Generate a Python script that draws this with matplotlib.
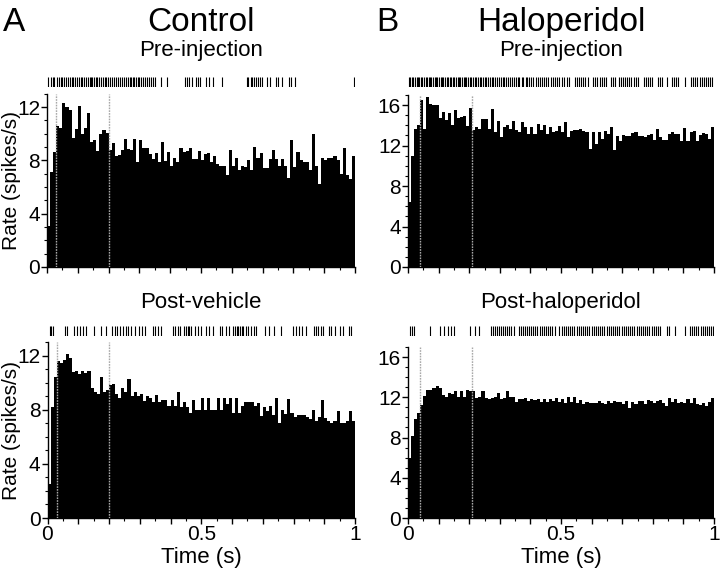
import matplotlib
matplotlib.use('Agg')
import matplotlib.pyplot as plt
import numpy as np
from matplotlib.ticker import MultipleLocator

plt.rcParams['font.family'] = ['Liberation Sans', 'DejaVu Sans']

# ---------------- data ----------------
bin_width = 0.01
bin_starts = np.arange(100) * bin_width

control_pre = [3.1, 7.1, 8.6, 10.6, 10.4, 12.3, 12.0, 11.8, 9.7, 10.35,
               12.1, 10.0, 10.45, 11.55, 9.35, 9.55, 8.7, 10.0, 10.3, 10.05,
               8.8, 9.3, 8.3, 8.4, 8.8, 9.6, 8.85, 8.75, 9.6, 7.9,
               9.5, 8.9, 8.9, 8.5, 8.1, 8.55, 7.9, 9.4, 7.95, 8.6,
               7.6, 8.2, 7.85, 8.9, 8.6, 8.7, 8.9, 8.1, 8.1, 8.7,
               8.0, 8.5, 8.55, 7.9, 8.35, 7.7, 7.55, 7.55, 6.9, 8.8,
               7.55, 8.2, 7.3, 7.6, 7.5, 8.05, 7.25, 9.0, 8.2, 8.55,
               7.45, 7.45, 8.1, 8.8, 8.1, 7.6, 8.1, 7.6, 6.7, 9.5,
               7.5, 8.6, 8.0, 7.9, 7.9, 7.25, 9.95, 7.6, 6.25, 8.2,
               8.0, 8.2, 8.2, 8.35, 8.0, 6.95, 8.9, 6.9, 6.6, 8.35]

control_post = [2.5, 8.2, 10.4, 11.6, 11.45, 11.7, 12.1, 11.8, 10.8, 10.85,
                10.65, 10.9, 10.7, 10.9, 9.6, 9.3, 9.15, 10.4, 9.35, 9.5,
                9.8, 9.9, 9.2, 8.85, 9.6, 9.3, 10.3, 9.0, 9.3, 9.0,
                9.2, 8.65, 9.0, 8.9, 8.6, 9.1, 8.6, 8.75, 8.7, 8.25,
                8.75, 8.3, 9.3, 8.2, 8.6, 8.2, 7.8, 8.7, 7.95, 8.0,
                8.85, 8.0, 8.9, 8.0, 8.0, 8.85, 8.0, 8.85, 8.45, 8.85,
                7.75, 8.85, 7.75, 8.25, 8.6, 8.55, 8.55, 8.3, 8.5, 7.55,
                8.2, 7.9, 8.25, 7.65, 8.85, 7.05, 7.95, 7.7, 8.8, 7.75,
                7.5, 7.65, 7.65, 7.65, 7.5, 7.3, 7.95, 7.2, 7.5, 8.7,
                7.4, 7.15, 7.05, 7.15, 7.9, 7.0, 7.05, 7.15, 7.9, 7.2]

halo_pre = [6.4, 11.0, 13.6, 14.0, 16.5, 13.6, 16.8, 16.1, 16.0, 16.0,
            14.75, 15.35, 14.5, 15.2, 14.0, 15.5, 14.7, 14.8, 14.9, 13.95,
            15.7, 13.5, 13.85, 13.6, 14.6, 14.6, 13.6, 15.6, 13.35, 14.45,
            12.85, 13.8, 14.0, 13.6, 14.45, 13.5, 13.3, 14.3, 13.85, 13.1,
            13.85, 13.1, 14.1, 13.5, 14.0, 13.1, 13.85, 13.35, 13.45, 13.9,
            13.35, 14.35, 12.8, 13.4, 13.5, 13.55, 13.6, 13.45, 13.3, 11.7,
            13.3, 12.2, 13.35, 12.7, 13.4, 13.1, 13.8, 11.55, 12.9, 12.45,
            13.05, 12.95, 12.95, 13.25, 13.3, 12.95, 12.9, 12.85, 13.05, 13.1,
            12.6, 13.6, 12.85, 12.6, 12.6, 13.1, 13.3, 13.15, 13.1, 12.5,
            13.7, 12.5, 13.3, 13.4, 12.5, 13.05, 13.2, 13.1, 12.7, 13.8]

halo_post = [5.95, 8.15, 9.85, 10.4, 11.2, 12.1, 12.7, 12.7, 12.95, 13.1,
             12.95, 12.2, 12.05, 12.4, 12.3, 12.65, 12.05, 12.65, 12.05, 12.75,
             12.65, 12.65, 11.95, 12.05, 12.6, 11.9, 11.8, 11.95, 12.05, 12.4,
             11.8, 11.95, 12.6, 12.05, 12.0, 11.55, 11.8, 11.8, 11.9, 11.65,
             11.8, 11.7, 11.85, 11.55, 11.8, 11.55, 11.8, 11.6, 11.9, 11.55,
             11.8, 11.4, 12.0, 11.55, 12.05, 11.4, 11.7, 11.3, 11.55, 11.45,
             11.45, 11.4, 11.65, 11.4, 11.3, 11.65, 11.45, 11.6, 11.55, 11.55,
             11.3, 11.65, 10.9, 11.55, 11.3, 11.65, 11.65, 11.3, 11.7, 11.65,
             11.4, 11.65, 11.7, 11.4, 11.1, 11.9, 11.55, 11.8, 11.45, 11.55,
             11.4, 11.8, 11.4, 11.9, 11.3, 11.2, 11.45, 11.1, 11.55, 11.9]

control_pre_spikes = [0.004, 0.012, 0.019, 0.024, 0.031, 0.038, 0.045, 0.049, 0.056, 0.063,
                      0.067, 0.074, 0.081, 0.086, 0.092, 0.098, 0.104, 0.111, 0.115, 0.121,
                      0.127, 0.133, 0.138, 0.142, 0.147, 0.152, 0.158, 0.163, 0.169, 0.176,
                      0.181, 0.187, 0.193, 0.199, 0.205, 0.211, 0.216, 0.223, 0.229, 0.236,
                      0.243, 0.249, 0.256, 0.262, 0.268, 0.273, 0.279, 0.284, 0.289, 0.294,
                      0.299, 0.305, 0.311, 0.318, 0.324, 0.331, 0.337, 0.345, 0.352, 0.371,
                      0.389, 0.447, 0.455, 0.461, 0.472, 0.483, 0.489, 0.497, 0.515, 0.527,
                      0.538, 0.568, 0.648, 0.654, 0.661, 0.667, 0.672, 0.679, 0.684, 0.691,
                      0.697, 0.713, 0.724, 0.743, 0.751, 0.762, 0.786, 0.793, 0.806, 0.997]

control_post_spikes = [0.008, 0.013, 0.018, 0.056, 0.065, 0.085, 0.096, 0.107, 0.116, 0.126,
                       0.151, 0.175, 0.189, 0.21, 0.218, 0.226, 0.236, 0.245, 0.254, 0.262,
                       0.272, 0.283, 0.297, 0.308, 0.316, 0.342, 0.351, 0.36, 0.37, 0.407,
                       0.416, 0.423, 0.432, 0.445, 0.45, 0.456, 0.461, 0.466, 0.481, 0.489,
                       0.498, 0.517, 0.526, 0.537, 0.56, 0.569, 0.58, 0.589, 0.602, 0.609,
                       0.616, 0.621, 0.626, 0.632, 0.637, 0.645, 0.652, 0.661, 0.67, 0.677,
                       0.706, 0.72, 0.737, 0.76, 0.798, 0.807, 0.818, 0.828, 0.841, 0.867,
                       0.874, 0.88, 0.889, 0.896, 0.915, 0.923, 0.934, 0.952, 0.961, 0.98, 0.986]

halo_pre_spikes = [0.003, 0.008, 0.013, 0.017, 0.022, 0.028, 0.033, 0.037, 0.042, 0.047,
                   0.052, 0.058, 0.062, 0.067, 0.071, 0.076, 0.082, 0.087, 0.091, 0.096,
                   0.101, 0.107, 0.112, 0.116, 0.121, 0.126, 0.131, 0.136, 0.141, 0.146,
                   0.151, 0.157, 0.162, 0.166, 0.171, 0.177, 0.182, 0.186, 0.191, 0.197,
                   0.202, 0.207, 0.213, 0.218, 0.223, 0.229, 0.234, 0.239, 0.245, 0.251,
                   0.256, 0.262, 0.268, 0.273, 0.279, 0.285, 0.291, 0.297, 0.303, 0.309,
                   0.314, 0.32, 0.326, 0.333, 0.339, 0.346, 0.352, 0.358, 0.364, 0.371,
                   0.377, 0.384, 0.39, 0.397, 0.403, 0.41, 0.417, 0.424, 0.431, 0.438,
                   0.445, 0.452, 0.459, 0.466, 0.473, 0.48, 0.487, 0.495, 0.503, 0.511,
                   0.519, 0.527, 0.545, 0.552, 0.559, 0.566, 0.573, 0.58, 0.587, 0.605,
                   0.612, 0.619, 0.626, 0.633, 0.64, 0.647, 0.665, 0.671, 0.678, 0.688,
                   0.695, 0.702, 0.709, 0.716, 0.723, 0.73, 0.737, 0.744, 0.752, 0.77,
                   0.777, 0.784, 0.791, 0.798, 0.816, 0.823, 0.83, 0.848, 0.862, 0.869,
                   0.876, 0.883, 0.905, 0.925, 0.932, 0.939, 0.946, 0.953, 0.96, 0.967,
                   0.974, 0.981, 0.988, 0.995]

halo_post_spikes = [0.005, 0.013, 0.02, 0.072, 0.105, 0.118, 0.132, 0.14, 0.15, 0.204,
                    0.218, 0.231, 0.272, 0.279, 0.285, 0.292, 0.298, 0.305, 0.311, 0.318,
                    0.325, 0.331, 0.338, 0.345, 0.362, 0.369, 0.375, 0.382, 0.389, 0.396,
                    0.402, 0.409, 0.416, 0.423, 0.43, 0.437, 0.444, 0.451, 0.458, 0.465,
                    0.472, 0.479, 0.495, 0.502, 0.509, 0.516, 0.523, 0.53, 0.537, 0.544,
                    0.551, 0.558, 0.565, 0.572, 0.579, 0.586, 0.593, 0.6, 0.607, 0.614,
                    0.621, 0.628, 0.635, 0.642, 0.649, 0.656, 0.663, 0.67, 0.677, 0.684,
                    0.691, 0.698, 0.705, 0.712, 0.719, 0.726, 0.733, 0.74, 0.747, 0.754,
                    0.761, 0.768, 0.775, 0.782, 0.789, 0.796, 0.803, 0.81, 0.817, 0.824,
                    0.845, 0.852, 0.872, 0.905, 0.921, 0.928, 0.935, 0.942, 0.949, 0.956,
                    0.963, 0.97, 0.977, 0.984, 0.991, 0.998]

control_markers = [0.03, 0.2]
halo_markers = [0.04, 0.21]

# ---------------- layout ----------------
W, H = 720, 570
fig = plt.figure(figsize=(7.2, 5.7), dpi=100)


def rect(l, r, b, t):
    return [l / W, 1 - b / H, (r - l) / W, (b - t) / H]


TICK_FS = 15
LABEL_FS = 16


def panel(box, raster_box, rates, spikes, markers, ymax, ymajors, xlabels):
    ax = fig.add_axes(rect(*box))
    ax.bar(bin_starts, rates, width=bin_width, align='edge', color='black',
           linewidth=0, zorder=2)
    for m in markers:
        ax.axvline(m, color='#a8a8a8', lw=1.0, ls=(0, (1.2, 0.8)), zorder=3)
    ax.set_xlim(0, 1)
    ax.set_ylim(0, ymax)
    for s in ['top', 'right']:
        ax.spines[s].set_visible(False)
    for s in ['left', 'bottom']:
        ax.spines[s].set_linewidth(1.0)
    ax.set_xticks(np.arange(0, 1.01, 0.1))
    ax.xaxis.set_minor_locator(MultipleLocator(0.05))
    if xlabels:
        ax.set_xticklabels(['0', '', '', '', '', '0.5', '', '', '', '', '1'])
    else:
        ax.set_xticklabels([])
    ax.set_yticks(ymajors)
    ax.set_yticklabels([str(v) for v in ymajors])
    ax.yaxis.set_minor_locator(MultipleLocator(1))
    ax.tick_params(axis='both', which='major', direction='out', length=4,
                   width=1, labelsize=TICK_FS, pad=1)
    ax.tick_params(axis='both', which='minor', direction='out', length=2,
                   width=0.8)
    # raster of spike times above the histogram
    rax = fig.add_axes(rect(*raster_box))
    rax.vlines(spikes, 0, 1, color='black', lw=0.8)
    rax.set_xlim(0, 1)
    rax.set_ylim(0, 1)
    rax.axis('off')
    return ax


panel((47, 355, 267, 93.7), (47, 355, 87, 77), control_pre, control_pre_spikes,
      control_markers, 13, [0, 4, 8, 12], False)
panel((408, 714, 267, 95), (408, 714, 87, 77), halo_pre, halo_pre_spikes,
      halo_markers, 17, [0, 4, 8, 12, 16], False)
panel((47.5, 355, 518, 342.2), (47.5, 355, 336, 326), control_post, control_post_spikes,
      control_markers, 13, [0, 4, 8, 12], True)
panel((408, 714, 518, 347), (408, 714, 336, 326), halo_post, halo_post_spikes,
      halo_markers, 17, [0, 4, 8, 12, 16], True)


def ftext(x, y, s, **kw):
    fig.text(x / W, 1 - y / H, s, **kw)


ftext(3, 31, 'A', fontsize=24, ha='left', va='baseline')
ftext(201, 31, 'Control', fontsize=24, ha='center', va='baseline')
ftext(376, 31, 'B', fontsize=24, ha='left', va='baseline')
ftext(561, 31, 'Haloperidol', fontsize=24, ha='center', va='baseline')
ftext(201, 56, 'Pre-injection', fontsize=LABEL_FS, ha='center', va='baseline')
ftext(561, 56, 'Pre-injection', fontsize=LABEL_FS, ha='center', va='baseline')
ftext(201, 308, 'Post-vehicle', fontsize=LABEL_FS, ha='center', va='baseline')
ftext(561, 308, 'Post-haloperidol', fontsize=LABEL_FS, ha='center', va='baseline')
ftext(201, 563, 'Time (s)', fontsize=LABEL_FS, ha='center', va='baseline')
ftext(561, 563, 'Time (s)', fontsize=LABEL_FS, ha='center', va='baseline')
ftext(12, 180, 'Rate (spikes/s)', fontsize=15, ha='center', va='center', rotation=90)
ftext(12, 431, 'Rate (spikes/s)', fontsize=15, ha='center', va='center', rotation=90)

fig.savefig('out.png', dpi=100, facecolor='white')
